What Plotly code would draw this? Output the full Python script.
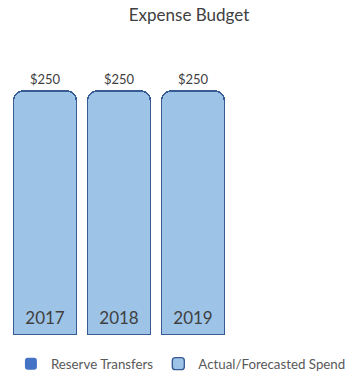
import plotly.graph_objects as go

# Budget by fiscal year (in $)
years = ["2017", "2018", "2019"]
reserve_transfers = [0, 0, 0]
actual_forecasted = [250, 250, 250]

FONT = "Lato"
TEXT_DARK = "#404040"
TEXT_MID = "#595959"

fig = go.Figure()

fig.add_trace(go.Bar(
    name="Reserve Transfers",
    x=years,
    y=reserve_transfers,
    marker=dict(color="#4472C4", line=dict(width=0)),
    hoverinfo="skip",
))

fig.add_trace(go.Bar(
    name="Actual/Forecasted Spend",
    x=years,
    y=actual_forecasted,
    marker=dict(color="#9DC3E6", line=dict(color="#385D95", width=1.4)),
))

# value labels above each stack (category index positions)
for i, (r, a) in enumerate(zip(reserve_transfers, actual_forecasted)):
    total = r + a
    fig.add_annotation(
        x=i, y=total, text=f"${total:,}",
        showarrow=False, yanchor="bottom", yshift=2,
        font=dict(family=FONT, size=13, color=TEXT_DARK),
    )

fig.update_layout(
    width=351, height=375,
    margin=dict(l=8, r=0, t=42, b=40, autoexpand=False),
    paper_bgcolor="white", plot_bgcolor="white",
    barmode="stack",
    bargap=0.15,
    barcornerradius=10,
    title=dict(
        text="Expense Budget",
        x=189 / 351, xref="container", xanchor="center",
        y=1 - 15 / 375, yref="container", yanchor="middle",
        font=dict(family=FONT, size=17, color=TEXT_DARK),
    ),
    xaxis=dict(
        type="category",
        range=[-0.5, 4.135],
        showgrid=False, zeroline=False, showline=False,
        ticks="",
        ticklabelposition="inside",
        ticklabelstandoff=5,
        tickfont=dict(family=FONT, size=17, color=TEXT_DARK),
    ),
    yaxis=dict(
        range=[0, 300],
        visible=False,
    ),
    legend=dict(
        orientation="h",
        traceorder="normal",
        x=0.0085, xanchor="left",
        y=-0.099, yanchor="middle",
        font=dict(family=FONT, size=13.3, color=TEXT_MID),
        itemwidth=30,
    ),
    showlegend=True,
)

fig.write_html("out.html")
